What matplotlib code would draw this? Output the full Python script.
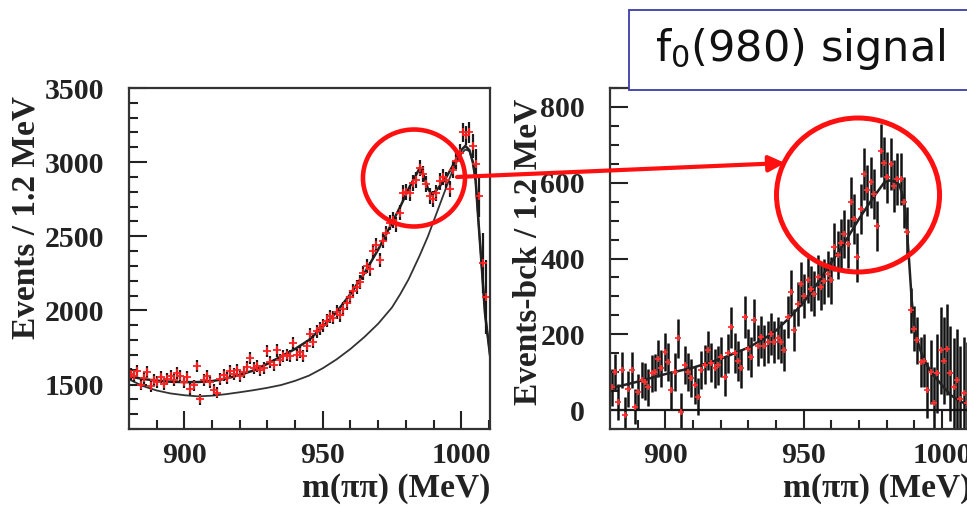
import numpy as np
import matplotlib.pyplot as plt
from matplotlib.patches import Ellipse, Rectangle, FancyArrowPatch

# histogram binning: 1.2 MeV bins, 880.0 - 1009.6 MeV
bin_centers = np.arange(880.6, 1009.1, 1.2)

# left panel: events per bin
events = [
    1570, 1555, 1590, 1500, 1545, 1585, 1490, 1530, 1520, 1550,
    1505, 1540, 1560, 1530, 1580, 1560, 1520, 1550, 1470, 1495,
    1625, 1400, 1530, 1560, 1520, 1465, 1445, 1540, 1565, 1545,
    1590, 1570, 1600, 1560, 1585, 1620, 1680, 1610, 1625, 1595,
    1610, 1725, 1650, 1630, 1730, 1665, 1690, 1700, 1690, 1780,
    1700, 1720, 1690, 1760, 1840, 1790, 1860, 1880, 1900, 1930,
    1960, 1950, 1990, 1970, 2010, 2050, 2090, 2130, 2160, 2190,
    2250, 2300, 2280, 2400, 2440, 2340, 2470, 2520, 2590, 2610,
    2580, 2660, 2790, 2800, 2790, 2860, 2880, 2960, 2920, 2850,
    2770, 2750, 2790, 2870, 2900, 2880, 2820, 2950, 3010, 3060,
    3200, 3180, 3200, 3110, 2990, 2770, 2320, 2090,
]
events_err = [
    40, 40, 40, 40, 40, 40, 39, 40, 40, 40,
    40, 40, 40, 40, 40, 40, 40, 40, 39, 39,
    40, 38, 40, 40, 40, 39, 39, 40, 40, 40,
    40, 40, 40, 40, 40, 40, 41, 40, 40, 40,
    40, 42, 41, 41, 42, 41, 41, 41, 41, 42,
    41, 42, 41, 42, 43, 43, 44, 44, 44, 44,
    45, 45, 45, 45, 45, 46, 46, 46, 47, 47,
    47, 48, 48, 49, 49, 48, 50, 50, 51, 51,
    51, 52, 53, 53, 53, 54, 54, 55, 55, 54,
    54, 54, 54, 55, 55, 55, 55, 56, 58, 60,
    62, 65, 70, 80, 100, 140, 200, 250,
]

# left panel: total fit and background curves
fit_x = [880, 885, 890, 895, 900, 905, 910, 915, 920, 925, 930, 935, 940,
         945, 950, 955, 960, 965, 970, 975, 978, 981, 983, 985, 986.5, 988,
         989.5, 991.5, 994, 996.5, 998.5, 1000, 1001.5, 1003, 1004.2, 1005.2,
         1006.2, 1007.4, 1008.6, 1010.4]
fit_y = [1555, 1538, 1526, 1519, 1516, 1517, 1523, 1540, 1565, 1595, 1640,
         1690, 1740, 1800, 1890, 1990, 2110, 2250, 2410, 2590, 2700, 2820,
         2890, 2960, 2910, 2820, 2780, 2820, 2880, 2960, 3030, 3080, 3110,
         3080, 3000, 2880, 2610, 2300, 1980, 1700]
bkg_x = [880, 885, 890, 895, 900, 905, 910, 915, 920, 925, 930, 935, 940,
         945, 950, 955, 960, 965, 970, 975, 978, 981, 985, 988, 991, 994,
         996, 998, 1000, 1001.5, 1003, 1004.2, 1005.2, 1006.2, 1007.4,
         1008.6, 1010.4]
bkg_y = [1535, 1490, 1460, 1440, 1428, 1420, 1425, 1435, 1448, 1462, 1478,
         1497, 1525, 1560, 1610, 1670, 1740, 1820, 1910, 2020, 2110, 2210,
         2370, 2500, 2650, 2800, 2900, 2990, 3055, 3085, 3075, 3000, 2880,
         2610, 2300, 1980, 1700]

# right panel: background-subtracted events per bin
signal = [
    60, 100, 22, 105, -13, 55, 105, 9, 48, 80,
    75, 60, 97, 100, 136, 110, 153, 127, 53, 100,
    189, -4, 120, 101, 85, 66, 35, 105, 120, 158,
    125, 110, 118, 140, 88, 150, 219, 150, 130, 110,
    245, 160, 140, 237, 170, 193, 170, 180, 200, 180,
    190, 180, 158, 245, 311, 211, 280, 333, 300, 342,
    320, 307, 350, 324, 340, 360, 342, 430, 410, 440,
    465, 439, 548, 505, 403, 531, 623, 580, 601, 570,
    487, 684, 653, 614, 649, 592, 610, 610, 548, 470,
    263, 215, 184, 127, 130, 53, 100, 18, 97, 158,
    130, 160, 97, 61, 80, 30, 44, 20,
]
signal_err = [
    48, 48, 47, 48, 47, 48, 48, 47, 48, 48,
    48, 48, 49, 49, 50, 49, 50, 50, 49, 50,
    51, 49, 50, 50, 50, 50, 49, 50, 51, 52,
    51, 51, 51, 52, 51, 52, 54, 53, 52, 52,
    55, 53, 53, 55, 54, 55, 54, 55, 55, 55,
    55, 55, 55, 56, 58, 56, 57, 58, 58, 59,
    59, 59, 60, 60, 60, 61, 61, 63, 63, 64,
    64, 64, 66, 66, 64, 66, 68, 67, 68, 67,
    66, 70, 69, 68, 69, 68, 68, 68, 67, 66,
    60, 60, 62, 65, 70, 75, 85, 95, 105, 115,
    115, 120, 125, 130, 135, 140, 150, 160,
]
sig_fit_x = [880, 890, 900, 910, 920, 930, 936, 940, 945, 950, 955, 960,
             965, 970, 975, 979, 981, 983, 984.5, 986, 987, 988, 989, 990,
             992, 994, 996.5, 1000, 1003, 1006, 1010.4]
sig_fit_y = [57, 75, 95, 112, 135, 165, 190, 210, 245, 285, 335, 390, 445,
             505, 560, 600, 606, 603, 595, 560, 500, 400, 290, 215, 160, 125,
             95, 65, 40, 25, 10]

serif = 'Liberation Serif'
tick_font = dict(family=serif, weight='bold', size=21.5)
label_font = dict(family=serif, weight='bold', size=24)

fig = plt.figure(figsize=(9.67, 5.07), dpi=100)
ax1 = fig.add_axes([0.1334, 0.1538, 0.3733, 0.6726])
ax2 = fig.add_axes([0.6308, 0.1538, 0.3733, 0.6726])

# ---- left panel
ax1.plot(bkg_x, bkg_y, color='#333333', lw=1.3)
ax1.plot(fit_x, fit_y, color='#222222', lw=1.8)
ax1.errorbar(bin_centers, events, yerr=events_err, fmt='none',
             ecolor='#1a1a1a', elinewidth=1.6, capsize=0)
ax1.plot(bin_centers, events, '+', color='#ff2020', ms=6, mew=1.3)
ax1.set_xlim(880, 1010.4)
ax1.set_ylim(1200, 3500)
ax1.set_yticks([1500, 2000, 2500, 3000, 3500])
ax1.set_yticks(np.arange(1200, 3501, 100), minor=True)
ax1.set_ylabel('Events / 1.2 MeV', **label_font, color='#222222')
ax1.yaxis.label.set(ha='center', va='center')
ax1.yaxis.set_label_coords(-0.285, 0.62)

# ---- right panel
ax2.axhline(0, color='#1a1a1a', lw=1.6)
ax2.errorbar(bin_centers, signal, yerr=signal_err, fmt='none',
             ecolor='#111111', elinewidth=1.8, capsize=0)
ax2.plot(sig_fit_x, sig_fit_y, color='#222222', lw=1.8)
ax2.plot(bin_centers, signal, '+', color='#ff3030', ms=5, mew=1.3)
ax2.set_xlim(880, 1010.4)
ax2.set_ylim(-50, 850)
ax2.set_yticks([0, 200, 400, 600, 800])
ax2.set_yticks(np.arange(-50, 851, 50), minor=True)
ax2.set_ylabel('Events-bck / 1.2 MeV', **label_font, color='#222222')
ax2.yaxis.label.set(ha='center', va='center')
ax2.yaxis.set_label_coords(-0.227, 0.52)

for ax in (ax1, ax2):
    ax.set_xticks([900, 950, 1000])
    ax.set_xticks(np.arange(890, 1011, 10), minor=True)
    ax.set_xlabel('m(\u03c0\u03c0) (MeV)', **label_font, color='#222222')
    ax.xaxis.set_label_coords(1.0, -0.175)
    ax.xaxis.label.set(ha='right', va='center')
    ax.tick_params(which='both', direction='in', top=False, right=False,
                   width=1.5, color='#222222')
    ax.tick_params(which='major', length=13)
    ax.tick_params(which='minor', length=6.5)
    ax.tick_params(axis='x', which='major', pad=9)
    ax.tick_params(axis='y', which='major', pad=18)
    for lab in ax.get_xticklabels() + ax.get_yticklabels():
        lab.set(**tick_font, color='#222222')
    for sp in ax.spines.values():
        sp.set_linewidth(1.6)
        sp.set_color('#333333')

# ---- slide annotations
box = Rectangle((0.6505, 0.8225), 0.36, 0.158, transform=fig.transFigure,
                facecolor='white', edgecolor='#3b3bab', lw=1.3, zorder=5)
fig.add_artist(box)
fig.text(0.827, 0.903, 'f$_0$(980) signal', fontsize=31, ha='center',
         va='center', family='DejaVu Sans', color='#111111', zorder=6)

fig.add_artist(Ellipse((0.4281, 0.6489), 0.1055, 0.1913,
                       transform=fig.transFigure, fill=False,
                       edgecolor='#ff1010', lw=3.3, zorder=7))
fig.add_artist(Ellipse((0.8873, 0.6154), 0.1686, 0.3037,
                       transform=fig.transFigure, fill=False,
                       edgecolor='#ff1010', lw=3.6, zorder=7))
fig.add_artist(FancyArrowPatch((0.4726, 0.6509), (0.8118, 0.6785),
                               transform=fig.transFigure, arrowstyle='-|>',
                               mutation_scale=24, color='#ff1010', lw=3.0,
                               shrinkA=0, shrinkB=0, zorder=7))

fig.savefig('out.png', dpi=100)
